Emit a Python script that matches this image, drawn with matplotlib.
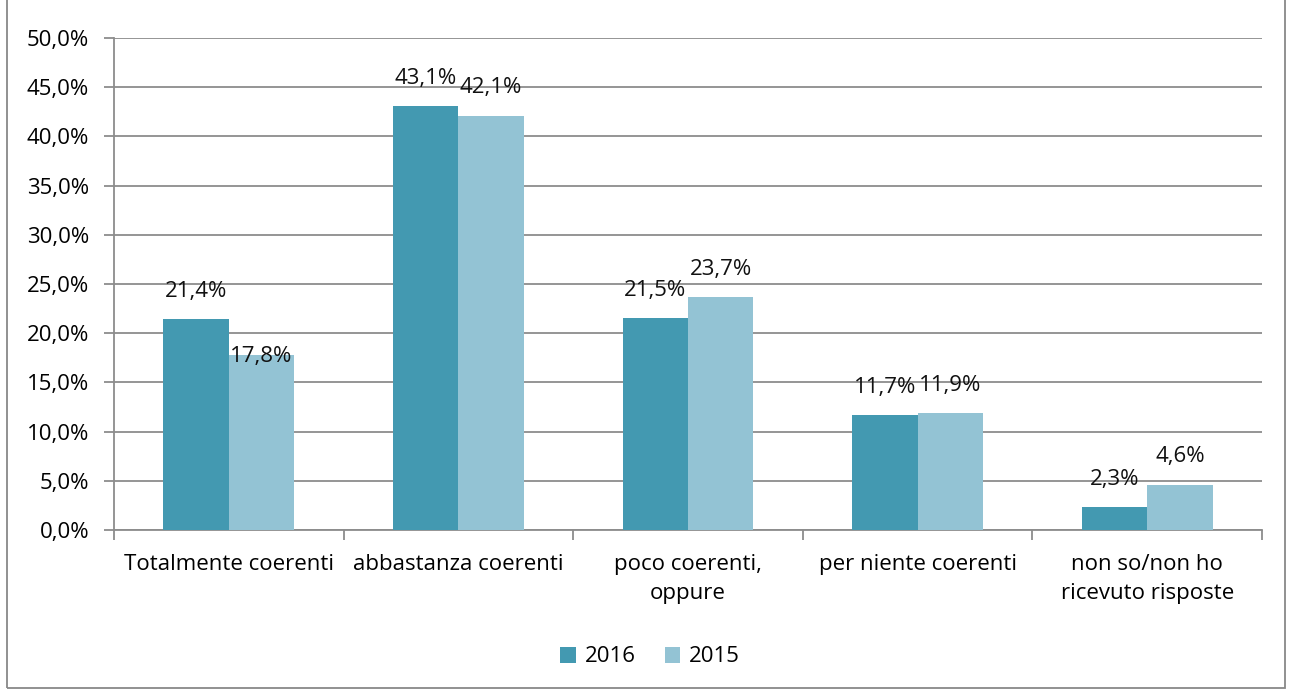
import numpy as np
import matplotlib
matplotlib.use("Agg")
import matplotlib.pyplot as plt
from matplotlib.patches import Rectangle

categories = ["Totalmente coerenti", "abbastanza coerenti", "poco coerenti,\noppure",
              "per niente coerenti", "non so/non ho\nricevuto risposte"]
v2016 = [21.4, 43.1, 21.5, 11.7, 2.3]
v2015 = [17.8, 42.1, 23.7, 11.9, 4.6]
series = [("2016", v2016, "#4399B1"), ("2015", v2015, "#93C3D4")]

plt.rcParams["font.family"] = ["Open Sans", "DejaVu Sans"]
FS = 16
W, H = 1292, 691
fig = plt.figure(figsize=(W / 100, H / 100), dpi=100)
ax = fig.add_axes([114 / W, 1 - 530 / H, (1262 - 114) / W, (530 - 38) / H])

x = np.arange(len(categories))
bw = 0.285
grid_c = "#8c8c8c"
for i, (name, vals, col) in enumerate(series):
    pos = x + (i - 0.5) * bw
    ax.bar(pos, vals, width=bw, color=col, label=name, zorder=3)
    for p, v in zip(pos, vals):
        # Excel pushed the 17,8% label down onto its bar to avoid 21,4%
        dy = -1 if (name == "2015" and v == 17.8) else 20
        ax.annotate(f"{v:.1f}%".replace(".", ","), (p, v), xytext=(0, dy),
                    textcoords="offset points", ha="center", va="center",
                    fontsize=FS, color="#111111", zorder=4)

ax.set_xlim(-0.5, len(categories) - 0.5)
ax.set_ylim(0, 50)
yt = np.arange(0, 50.1, 5)
ax.set_yticks(yt)
ax.set_yticklabels([f"{t:.1f}%".replace(".", ",") for t in yt], fontsize=FS)
ax.yaxis.grid(True, color=grid_c, lw=1.3, zorder=0)
ax.set_axisbelow(True)

ax.set_xticks(np.arange(-0.5, len(categories)), minor=False)
ax.set_xticklabels([])
ax.set_xticks(x, minor=True)
ax.set_xticklabels(categories, minor=True, fontsize=FS, linespacing=1.55)
ax.tick_params(axis="x", which="major", length=7, width=1.3, color=grid_c, direction="out")
ax.tick_params(axis="x", which="minor", length=0, pad=17)
ax.tick_params(axis="y", length=7, width=1.3, color=grid_c, pad=11)

for s in ["top", "right"]:
    ax.spines[s].set_visible(False)
for s in ["left", "bottom"]:
    ax.spines[s].set_color(grid_c)
    ax.spines[s].set_linewidth(1.3)

fig.legend(loc="center", bbox_to_anchor=(650 / W, 1 - 657 / H), ncol=2, frameon=False,
           fontsize=FS, handlelength=0.7, handleheight=0.7, handletextpad=0.4,
           columnspacing=1.3)

fig.patches.append(Rectangle((7 / W, 3 / H), (1285 - 7) / W, 1.2, transform=fig.transFigure,
                             fill=False, edgecolor="#888888", lw=1.3))

fig.savefig("out.png", dpi=100)
